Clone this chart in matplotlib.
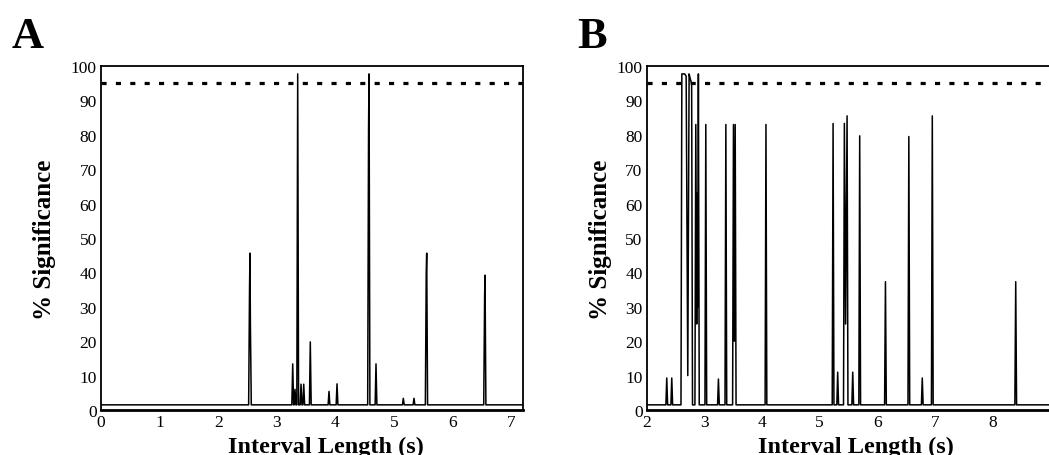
import numpy as np
import matplotlib
matplotlib.use("Agg")
import matplotlib.pyplot as plt

plt.rcParams['font.family'] = ['Liberation Serif', 'DejaVu Serif']

# Panel A: peak positions (s) and heights (% significance)
a_peaks_x = [2.534, 2.542, 2.549, 3.271, 3.310, 3.356, 3.413, 3.459, 3.571,
             3.890, 4.027, 4.565, 4.573, 4.692, 5.158, 5.340,
             5.549, 5.557, 6.545, 6.552]
a_peaks_y = [35, 45.6, 25, 13.4, 6, 97.7, 7.5, 7.5, 19.8,
             5.4, 7.6, 82, 97.7, 13.4, 3.4, 3.4,
             40, 45.6, 33, 39.2]
a_base = 1.5

# Panel B: peak positions (s) and heights (% significance)
b_peaks_x = [2.348, 2.435,
             2.610, 2.635, 2.660, 2.685, 2.713, 2.736, 2.760, 2.780,
             2.852, 2.868, 2.878, 2.886, 2.897,
             3.026, 3.245, 3.374, 3.506, 3.521, 3.536, 4.070,
             5.235, 5.315, 5.431, 5.452, 5.478, 5.576, 5.697,
             6.144, 6.550, 6.783, 6.957, 8.405]
b_peaks_y = [9.3, 9.3,
             97.7, 97.7, 97.7, 97, 10, 97.7, 96, 95,
             83, 25, 63, 30, 97.7,
             83, 9, 83, 83, 20, 83, 83,
             83.3, 11, 83.3, 25, 85.5, 11, 79.7,
             37.3, 79.5, 9.3, 85.5, 37.3]
b_base = 1.5

threshold = 95
y_ticks = [0, 10, 20, 30, 40, 50, 60, 70, 80, 90, 100]


def spikes(centers, heights, base, w, x0, x1):
    order = np.argsort(centers)
    xs, ys = [x0], [base]
    prev = None
    for i in order:
        c, h = centers[i], heights[i]
        if prev is None or c - prev > 2 * w:
            if prev is not None:
                xs.append(prev + w)
                ys.append(base)
            xs.append(c - w)
            ys.append(base)
        xs.append(c)
        ys.append(h)
        prev = c
    xs += [prev + w, x1]
    ys += [base, base]
    return xs, ys


W, H = 1049, 456
fig = plt.figure(figsize=(W / 100, H / 100), dpi=100)

axA = fig.add_axes([101 / W, 45 / H, 422 / W, 344 / H])
axB = fig.add_axes([646.7 / W, 45 / H, 403.3 / W, 344 / H])

for ax, px, py, base, xlim, xticks in [
        (axA, a_peaks_x, a_peaks_y, a_base, (0, 7.2), range(0, 8)),
        (axB, b_peaks_x, b_peaks_y, b_base, (2, 9.0), range(2, 9))]:
    xs, ys = spikes(px, py, base, 0.015, xlim[0], xlim[1])
    ax.plot(xs, ys, color='black', lw=1.1)
    ax.axhline(threshold, color='black', lw=2.3, dashes=(1.6, 2.9))
    ax.set_xlim(*xlim)
    ax.set_ylim(0, 100)
    ax.set_xticks(list(xticks))
    ax.set_yticks(y_ticks)
    ax.tick_params(length=0, labelsize=12.5, pad=3)
    for s in ax.spines.values():
        s.set_linewidth(1.3)
    ax.spines['bottom'].set_linewidth(2.0)

axB.spines['right'].set_visible(False)

# panel letters and axis titles
fig.text(12 / W, (H - 48) / H, 'A', fontsize=32, fontweight='bold', va='baseline')
fig.text(577 / W, (H - 48) / H, 'B', fontsize=32, fontweight='bold', va='baseline')
for xc in (45, 600):
    fig.text(xc / W, (H - 240) / H, '% Significance', fontsize=18,
             fontweight='bold', rotation=90, ha='center', va='center')
for xc in (326, 856):
    fig.text(xc / W, 3 / H, 'Interval Length (s)', fontsize=17.5,
             fontweight='bold', ha='center', va='baseline')

fig.savefig('out.png', dpi=100)
